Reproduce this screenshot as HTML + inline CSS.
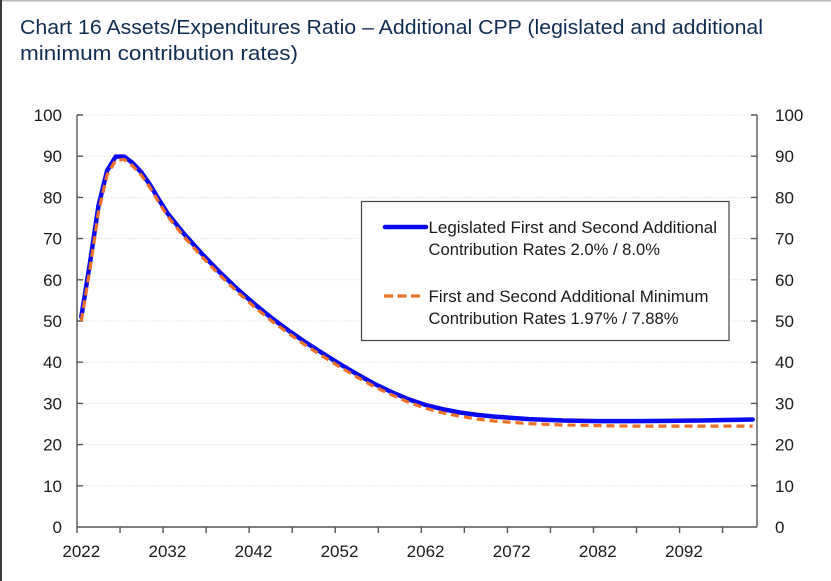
<!DOCTYPE html>
<html>
<head>
<meta charset="utf-8">
<style>
html,body{margin:0;padding:0;background:#fff;}
svg{display:block;}
text{font-family:"Liberation Sans",Arial,sans-serif;}
</style>
</head>
<body>
<svg width="831" height="581" viewBox="0 0 831 581" xmlns="http://www.w3.org/2000/svg">
<rect x="0" y="0" width="831" height="581" fill="#ffffff"/>
<!-- frame edges -->
<line x1="0" y1="0.75" x2="831" y2="0.75" stroke="#b5b5b5" stroke-width="1.5"/>
<line x1="1" y1="0" x2="1" y2="581" stroke="#3a3a3a" stroke-width="2"/>

<!-- title -->
<text x="20" y="34" font-size="20" fill="#0f2d52" textLength="743" lengthAdjust="spacingAndGlyphs">Chart 16 Assets/Expenditures Ratio – Additional CPP (legislated and additional</text>
<text x="20" y="60" font-size="20" fill="#0f2d52" textLength="278" lengthAdjust="spacingAndGlyphs">minimum contribution rates)</text>

<!-- gridlines -->
<g stroke="#e2e2e2" stroke-width="1" stroke-dasharray="1.5 1.5">
<line x1="83" y1="115" x2="751" y2="115"/>
<line x1="83" y1="156.2" x2="751" y2="156.2"/>
<line x1="83" y1="197.4" x2="751" y2="197.4"/>
<line x1="83" y1="238.6" x2="751" y2="238.6"/>
<line x1="83" y1="279.8" x2="751" y2="279.8"/>
<line x1="83" y1="321" x2="751" y2="321"/>
<line x1="83" y1="362.2" x2="751" y2="362.2"/>
<line x1="83" y1="403.4" x2="751" y2="403.4"/>
<line x1="83" y1="444.6" x2="751" y2="444.6"/>
<line x1="83" y1="485.8" x2="751" y2="485.8"/>
</g>

<!-- axes -->
<g stroke="#555555" stroke-width="1.4" fill="none">
<line x1="77" y1="115" x2="77" y2="533"/>
<line x1="757" y1="115" x2="757" y2="527"/>
<line x1="77" y1="527" x2="757" y2="527"/>
<path d="M77 115H83M77 156.2H83M77 197.4H83M77 238.6H83M77 279.8H83M77 321H83M77 362.2H83M77 403.4H83M77 444.6H83M77 485.8H83"/>
<path d="M751 115H757M751 156.2H757M751 197.4H757M751 238.6H757M751 279.8H757M751 321H757M751 362.2H757M751 403.4H757M751 444.6H757M751 485.8H757"/>
<path d="M120.04 527V533M163.08 527V533M206.12 527V533M249.16 527V533M292.2 527V533M335.24 527V533M378.28 527V533M421.32 527V533M464.36 527V533M507.4 527V533M550.44 527V533M593.48 527V533M636.52 527V533M679.56 527V533M722.6 527V533"/>
</g>

<!-- left labels -->
<g font-size="17" fill="#1a1a1a" text-anchor="end">
<text x="62" y="121">100</text>
<text x="62" y="162.2">90</text>
<text x="62" y="203.4">80</text>
<text x="62" y="244.6">70</text>
<text x="62" y="285.8">60</text>
<text x="62" y="327">50</text>
<text x="62" y="368.2">40</text>
<text x="62" y="409.4">30</text>
<text x="62" y="450.6">20</text>
<text x="62" y="491.8">10</text>
<text x="62" y="533">0</text>
</g>
<!-- right labels -->
<g font-size="17" fill="#1a1a1a" text-anchor="start">
<text x="775" y="121">100</text>
<text x="775" y="162.2">90</text>
<text x="775" y="203.4">80</text>
<text x="775" y="244.6">70</text>
<text x="775" y="285.8">60</text>
<text x="775" y="327">50</text>
<text x="775" y="368.2">40</text>
<text x="775" y="409.4">30</text>
<text x="775" y="450.6">20</text>
<text x="775" y="491.8">10</text>
<text x="775" y="533">0</text>
</g>
<!-- x labels -->
<g font-size="17" fill="#1a1a1a" text-anchor="middle">
<text x="81.3" y="557">2022</text>
<text x="167.4" y="557">2032</text>
<text x="253.5" y="557">2042</text>
<text x="339.5" y="557">2052</text>
<text x="425.6" y="557">2062</text>
<text x="511.7" y="557">2072</text>
<text x="597.8" y="557">2082</text>
<text x="683.9" y="557">2092</text>
</g>

<!-- blue series -->
<polyline fill="none" stroke="#0a0af0" stroke-width="4.5" stroke-linejoin="round" stroke-linecap="round"
points="81.3,316.9 89.9,263.3 98.5,205.6 107.1,170.6 115.7,156.6 124.3,156.6 132.9,163.2 141.6,172.7 150.2,185 158.8,199.5 167.4,213.1 184.6,234.5 201.9,253.8 219.1,271.6 236.3,288 253.5,303.3 270.7,317.3 287.9,330.1 305.1,342 322.3,353.1 339.5,363.8 356.8,374.1 374.0,383.6 391.2,391.9 408.4,399.3 425.6,405 442.8,409.2 460.0,412.5 477.3,414.9 494.5,416.6 528.9,419.1 563.3,420.5 597.8,421.1 632.2,421.1 666.6,420.9 701.0,420.5 752.7,419.5"/>

<!-- orange dashed series -->
<polyline fill="none" stroke="#ee7027" stroke-width="3.2" stroke-dasharray="8 5" stroke-linejoin="round"
points="81.3,321 89.9,269.5 98.5,211.8 107.1,174.7 115.7,160.3 124.3,159.5 132.9,166.1 141.6,175.6 150.2,187.9 158.8,202.3 167.4,215.9 184.6,237.4 201.9,256.7 219.1,274.4 236.3,290.9 253.5,306.2 270.7,320.2 287.9,332.9 305.1,344.9 322.3,356 339.5,366.7 356.8,377 374.0,386.5 391.2,394.7 408.4,402.2 425.6,408.3 442.8,412.9 460.0,416.2 477.3,419.1 494.5,421.1 528.9,423.6 563.3,425 597.8,425.6 632.2,426.1 666.6,426.1 701.0,426.1 752.7,426.1"/>

<!-- legend -->
<rect x="361.5" y="201.5" width="367.5" height="139" fill="#ffffff" stroke="#444444" stroke-width="1.2"/>
<line x1="385" y1="227" x2="426" y2="227" stroke="#0a0af0" stroke-width="4.5" stroke-linecap="round"/>
<line x1="384" y1="296" x2="420" y2="296" stroke="#ee7027" stroke-width="3.2" stroke-dasharray="9 4.5"/>
<g font-size="17" fill="#1a1a1a">
<text x="428.5" y="233" textLength="288.5" lengthAdjust="spacingAndGlyphs">Legislated First and Second Additional</text>
<text x="428.5" y="255" textLength="231.5" lengthAdjust="spacingAndGlyphs">Contribution Rates 2.0% / 8.0%</text>
<text x="428.5" y="302" textLength="280" lengthAdjust="spacingAndGlyphs">First and Second Additional Minimum</text>
<text x="428.5" y="324" textLength="250" lengthAdjust="spacingAndGlyphs">Contribution Rates 1.97% / 7.88%</text>
</g>
</svg>
</body>
</html>
